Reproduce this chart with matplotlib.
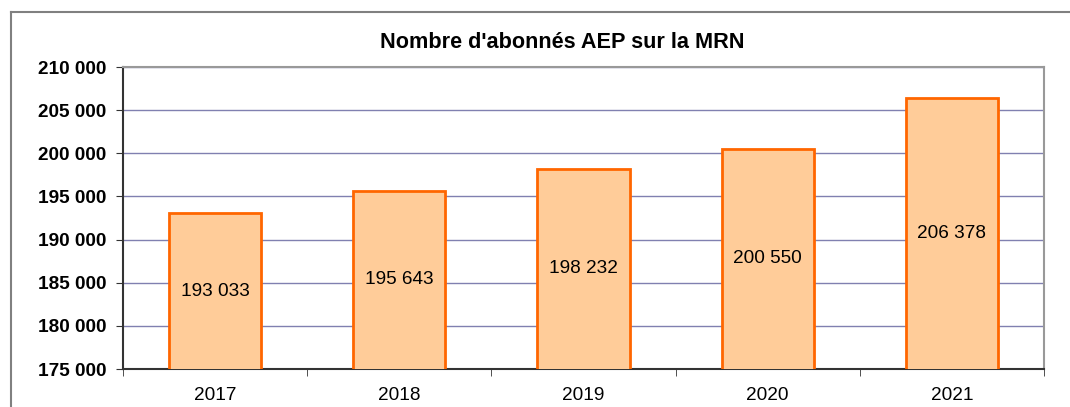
import numpy as np
import matplotlib.pyplot as plt
from matplotlib.ticker import FuncFormatter, FixedLocator
from matplotlib.lines import Line2D

plt.rcParams['font.family'] = ['Liberation Sans', 'DejaVu Sans']

years = ['2017', '2018', '2019', '2020', '2021']
abonnes = [193033, 195643, 198232, 200550, 206378]
y_ticks = [175000, 180000, 185000, 190000, 195000, 200000, 205000, 210000]


def fmt(v, pos=None):
    return f"{v:,.0f}".replace(",", " ")


fig = plt.figure(figsize=(10.7, 4.07), dpi=100)
ax = fig.add_axes([123 / 1070, 38 / 407, (1044 - 123) / 1070, (369 - 67) / 407])

x = np.arange(len(years))
ax.bar(x, abonnes, width=0.5, bottom=0, color='#FFCC99', edgecolor='#FF6600',
       linewidth=2, zorder=3)

ax.set_ylim(175000, 210000)
ax.set_xlim(-0.5, len(years) - 0.5)
ax.yaxis.set_major_locator(FixedLocator(y_ticks))
ax.yaxis.set_major_formatter(FuncFormatter(fmt))
ax.grid(axis='y', color='#8080B0', linewidth=1, zorder=0)

# étiquettes au milieu des barres
for xi, v in zip(x, abonnes):
    ax.text(xi, (175000 + v) / 2, fmt(v), ha='center', va='center',
            fontsize=13.7, color='black', zorder=4)

ax.set_xticks(x)
ax.set_xticklabels(years, fontsize=13.7)
ax.tick_params(axis='x', which='major', length=0, pad=13)
ax.set_xticks(np.arange(-0.5, len(years)), minor=True)
ax.tick_params(axis='x', which='minor', length=5, direction='out', color='#333333')
ax.tick_params(axis='y', length=5, direction='out', color='#333333', pad=7)
for lbl in ax.get_yticklabels():
    lbl.set_fontsize(13.7)
    lbl.set_fontweight('bold')

ax.spines['left'].set_color('#333333')
ax.spines['bottom'].set_color('#333333')
ax.spines['left'].set_linewidth(1.5)
ax.spines['bottom'].set_linewidth(1.5)
ax.spines['top'].set_color('#999999')
ax.spines['right'].set_color('#999999')
ax.spines['top'].set_linewidth(1.5)
ax.spines['right'].set_linewidth(1.5)

fig.text(562 / 1070, 1 - 42 / 407, "Nombre d'abonnés AEP sur la MRN", ha='center',
         va='center', fontsize=15.6, fontweight='bold')

# cadre extérieur
fig.add_artist(Line2D([11 / 1070, 1], [1 - 12 / 407, 1 - 12 / 407],
                      transform=fig.transFigure, color='#808080', linewidth=1.5))
fig.add_artist(Line2D([11 / 1070, 11 / 1070], [0, 1 - 12 / 407],
                      transform=fig.transFigure, color='#808080', linewidth=1.5))

fig.savefig('out.png', dpi=100)
